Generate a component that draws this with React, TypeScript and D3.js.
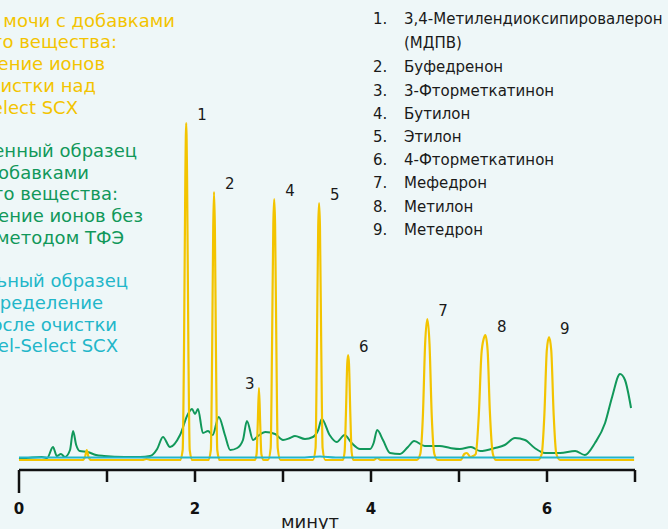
import React from "react";
import * as d3 from "d3";

// ---- data ----
const timeTicks = [0, 1, 2, 3, 4, 5, 6, 7];
const tickLabels = ["0", "", "2", "", "4", "", "6", ""];

// yellow: urine + analytes, after Supel-Select SCX cleanup [min, intensity]
const yellowTrace: [number, number][] = [
  [0, 0], [0.72, 0], [0.75, 3], [0.77, 10], [0.79, 3], [0.82, 0],
  [1.4, 0], [1.45, 1], [1.5, 0],
  [1.83, 0], [1.86, 10], [1.875, 110], [1.89, 282], [1.9, 337], [1.91, 282], [1.925, 110], [1.94, 10], [1.97, 0],
  [2.15, 0], [2.18, 10], [2.195, 110], [2.207, 232], [2.216, 268], [2.226, 232], [2.238, 110], [2.253, 10], [2.28, 0],
  [2.68, 0], [2.7, 6], [2.713, 36], [2.727, 72], [2.741, 36], [2.754, 6], [2.78, 0],
  [2.83, 0], [2.86, 12], [2.875, 110], [2.89, 236], [2.9, 261], [2.91, 236], [2.925, 110], [2.94, 12], [2.97, 0],
  [3.34, 0], [3.37, 12], [3.385, 110], [3.4, 233], [3.41, 257], [3.42, 233], [3.435, 110], [3.45, 12], [3.48, 0],
  [3.68, 0], [3.7, 8], [3.715, 46], [3.73, 96], [3.74, 105], [3.75, 96], [3.765, 46], [3.78, 8], [3.8, 0],
  [4.03, 0], [4.07, 2], [4.11, 0],
  [4.52, 0], [4.56, 6], [4.59, 45], [4.615, 116], [4.64, 141], [4.665, 116], [4.69, 45], [4.72, 6], [4.76, 0],
  [5.02, 0], [5.06, 6], [5.09, 7], [5.13, 3], [5.16, 4],
  [5.19, 6], [5.225, 45], [5.255, 106], [5.28, 121], [5.3, 125], [5.325, 110], [5.35, 50], [5.385, 6], [5.42, 0],
  [5.9, 0], [5.94, 6], [5.97, 45], [5.998, 110], [6.023, 123], [6.048, 110], [6.076, 45], [6.106, 6], [6.15, 0],
  [6.99, 0],
];

// green: unextracted spiked urine
const greenTrace: [number, number][] = [
  [0, 1], [0.26, 3], [0.32, 2], [0.386, 13], [0.43, 4], [0.477, 6], [0.52, 3], [0.58, 10], [0.614, 29],
  [0.65, 15], [0.69, 9], [0.78, 8], [0.875, 5], [0.966, 4], [1.2, 3], [1.375, 3], [1.49, 4], [1.57, 11],
  [1.636, 23], [1.716, 13], [1.83, 25], [1.92, 46], [1.966, 51], [2.0, 46], [2.034, 51], [2.09, 27],
  [2.148, 29], [2.2, 25], [2.27, 43], [2.34, 25], [2.4, 10], [2.48, 12], [2.545, 20], [2.59, 39],
  [2.66, 20], [2.716, 24], [2.8, 28], [2.91, 26], [3.0, 20], [3.08, 22], [3.136, 24], [3.25, 21],
  [3.34, 23], [3.4, 30], [3.44, 41], [3.53, 25], [3.61, 18], [3.7, 25], [3.78, 17], [3.875, 11],
  [3.99, 11], [4.03, 17], [4.07, 30], [4.136, 20], [4.216, 7], [4.33, 6], [4.42, 13], [4.49, 19],
  [4.61, 14], [4.78, 14], [4.9, 12], [5.01, 11], [5.136, 13], [5.24, 9], [5.41, 12], [5.52, 15],
  [5.636, 22], [5.75, 20], [5.86, 12], [5.977, 7], [6.15, 7], [6.32, 9], [6.43, 5], [6.545, 17],
  [6.66, 37], [6.74, 63], [6.83, 86], [6.886, 80], [6.955, 52],
];

// blue: blank urine after cleanup
const blueTrace: [number, number][] = [
  [0, 2.5], [3.2, 2.5], [3.42, 3.5], [3.6, 2.5], [6.99, 2.5],
];

const peakNumbers = ["1", "2", "3", "4", "5", "6", "7", "8", "9"];
const peakTimes = [1.9, 2.216, 2.727, 2.9, 3.41, 3.74, 4.64, 5.307, 6.023];
const peakHeights = [337, 268, 72, 261, 257, 105, 141, 125, 123];

const compoundNames = [
  "3,4-Метилендиоксипировалерон",
  "Буфедренон",
  "3-Фторметкатинон",
  "Бутилон",
  "Этилон",
  "4-Фторметкатинон",
  "Мефедрон",
  "Метилон",
  "Метедрон",
];

const yellowLines = [
  "Образец мочи с добавками",
  "исследуемого вещества:",
  "определение ионов",
  "после очистки над",
  "Supel-Select SCX",
];
const greenLines = [
  "Неочищенный образец",
  "мочи с добавками",
  "исследуемого вещества:",
  "определение ионов без",
  "очистки методом ТФЭ",
];
const blueLines = [
  "Контрольный образец",
  "мочи: определение",
  "ионов после очистки",
  "над Supel-Select SCX",
];

// ---- layout ----
const W = 668;
const H = 529;
const FONT = "'DejaVu Sans', Verdana, sans-serif";
const YELLOW = "#f3c400";
const GREEN = "#11985a";
const BLUE = "#22b6c9";

const yellowRight = [175, 117, 105, 96, 78];
const greenRight = [137, 89, 118, 143, 124];
const blueRight = [128, 103, 117, 118];

export default function App() {
  const x = d3.scaleLinear().domain([0, 7]).range([19, 635]);
  const y = d3.scaleLinear().domain([0, 340]).range([460, 120]);
  const line = d3
    .line<[number, number]>()
    .x((d) => x(d[0]))
    .y((d) => y(d[1]))
    .curve(d3.curveMonotoneX);

  const axisY = 470;
  const lineBase = (n: number) => 26.7 + 21.7 * n;

  return (
    <svg
      width={W}
      height={H}
      style={{ position: "absolute", left: 0, top: 0, display: "block" }}
      fontFamily={FONT}
    >
      <rect x={0} y={0} width={W} height={H} fill="#eef7f8" />

      {/* left notes */}
      {yellowLines.map((t, i) => (
        <text key={"y" + i} x={yellowRight[i]} y={lineBase(i)} textAnchor="end" fontSize={18} fill={YELLOW}>
          {t}
        </text>
      ))}
      {greenLines.map((t, i) => (
        <text key={"g" + i} x={greenRight[i]} y={lineBase(i + 6)} textAnchor="end" fontSize={18} fill={GREEN}>
          {t}
        </text>
      ))}
      {blueLines.map((t, i) => (
        <text key={"b" + i} x={blueRight[i]} y={lineBase(i + 12)} textAnchor="end" fontSize={18} fill={BLUE}>
          {t}
        </text>
      ))}

      {/* compound list */}
      {compoundNames.map((name, i) => {
        const by = i === 0 ? 24 : 72.3 + (i - 1) * 23.2;
        return (
          <g key={"c" + i} fontSize={15} fill="#1a1a1a">
            <text x={373} y={by}>{i + 1 + "."}</text>
            <text x={404} y={by}>{name}</text>
            {i === 0 && (
              <text x={404} y={by + 23.5}>(МДПВ)</text>
            )}
          </g>
        );
      })}

      {/* traces */}
      <path d={line(greenTrace) || ""} fill="none" stroke={GREEN} strokeWidth={2} strokeLinejoin="round" />
      <path d={line(yellowTrace) || ""} fill="none" stroke={YELLOW} strokeWidth={2.2} strokeLinejoin="round" />
      <path d={line(blueTrace) || ""} fill="none" stroke={BLUE} strokeWidth={2} />

      {/* peak labels */}
      {peakNumbers.map((p, i) => (
        <text
          key={"p" + i}
          x={x(peakTimes[i]) + (p === "3" ? -14 : 11)}
          y={y(peakHeights[i]) - (p === "3" ? -1 : 3)}
          fontSize={15}
          fill="#1a1a1a"
        >
          {p}
        </text>
      ))}

      {/* axis */}
      <line x1={x(0)} x2={x(7)} y1={axisY} y2={axisY} stroke="#111" strokeWidth={2.5} />
      {timeTicks.map((t, i) => (
        <g key={"t" + i}>
          <line x1={x(t)} x2={x(t)} y1={axisY} y2={i === 0 ? 493 : 482} stroke="#111" strokeWidth={2.5} />
          {tickLabels[i] && (
            <text x={x(t)} y={513.5} textAnchor="middle" fontSize={15} fontWeight="bold" fill="#111">
              {tickLabels[i]}
            </text>
          )}
        </g>
      ))}
      <text x={310} y={528} textAnchor="middle" fontSize={18} fill="#1a1a1a">
        минут
      </text>
    </svg>
  );
}
